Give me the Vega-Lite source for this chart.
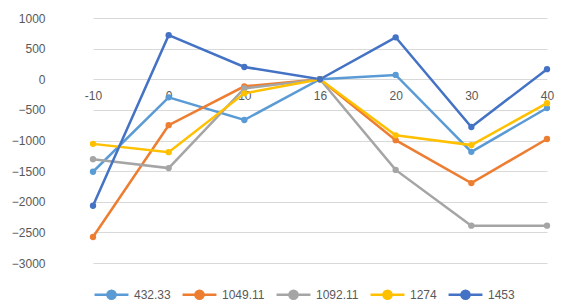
{
  "$schema": "https://vega.github.io/schema/vega-lite/v6.json",
  "width": 513,
  "height": 245,
  "autosize": {"type": "none"},
  "padding": {"left": 57, "top": 18, "right": 0, "bottom": 42},
  "background": "white",
  "config": {
    "view": {"stroke": null},
    "font": "Liberation Sans",
    "axis": {"labelColor": "#595959", "labelFontSize": 12, "ticks": false, "domain": false, "title": null}
  },
  "data": {"values": [
    {"x": "-10", "s": "432.33", "v": -1510},
    {"x": "0", "s": "432.33", "v": -295},
    {"x": "10", "s": "432.33", "v": -665},
    {"x": "16", "s": "432.33", "v": 0},
    {"x": "20", "s": "432.33", "v": 70},
    {"x": "30", "s": "432.33", "v": -1185},
    {"x": "40", "s": "432.33", "v": -470},
    {"x": "-10", "s": "1049.11", "v": -2575},
    {"x": "0", "s": "1049.11", "v": -750},
    {"x": "10", "s": "1049.11", "v": -115},
    {"x": "16", "s": "1049.11", "v": 0},
    {"x": "20", "s": "1049.11", "v": -995},
    {"x": "30", "s": "1049.11", "v": -1695},
    {"x": "40", "s": "1049.11", "v": -975},
    {"x": "-10", "s": "1092.11", "v": -1305},
    {"x": "0", "s": "1092.11", "v": -1450},
    {"x": "10", "s": "1092.11", "v": -150},
    {"x": "16", "s": "1092.11", "v": 0},
    {"x": "20", "s": "1092.11", "v": -1480},
    {"x": "30", "s": "1092.11", "v": -2390},
    {"x": "40", "s": "1092.11", "v": -2390},
    {"x": "-10", "s": "1274", "v": -1055},
    {"x": "0", "s": "1274", "v": -1190},
    {"x": "10", "s": "1274", "v": -230},
    {"x": "16", "s": "1274", "v": 0},
    {"x": "20", "s": "1274", "v": -915},
    {"x": "30", "s": "1274", "v": -1075},
    {"x": "40", "s": "1274", "v": -390},
    {"x": "-10", "s": "1453", "v": -2065},
    {"x": "0", "s": "1453", "v": 720},
    {"x": "10", "s": "1453", "v": 200},
    {"x": "16", "s": "1453", "v": 0},
    {"x": "20", "s": "1453", "v": 685},
    {"x": "30", "s": "1453", "v": -780},
    {"x": "40", "s": "1453", "v": 165}
  ]},
  "mark": {"type": "line", "strokeWidth": 2.5, "point": {"filled": true, "size": 40}},
  "encoding": {
    "x": {
      "field": "x", "type": "ordinal",
      "sort": ["-10", "0", "10", "16", "20", "30", "40"],
      "scale": {"type": "point", "range": [36, 490], "padding": 0},
      "axis": {"labelAngle": 0, "offset": -184, "labelPadding": 11, "grid": false, "zindex": 0}
    },
    "y": {
      "field": "v", "type": "quantitative",
      "scale": {"domain": [-3000, 1000], "nice": false, "zero": false},
      "axis": {"values": [-3000, -2500, -2000, -1500, -1000, -500, 0, 500, 1000], "format": "d", "gridColor": "#d9d9d9", "gridWidth": 1, "labelPadding": 12}
    },
    "color": {
      "field": "s", "type": "nominal",
      "sort": ["432.33", "1049.11", "1092.11", "1274", "1453"],
      "scale": {"domain": ["432.33", "1049.11", "1092.11", "1274", "1453"], "range": ["#5B9BD5", "#ED7D31", "#A5A5A5", "#FFC000", "#4472C4"]},
      "legend": {
        "title": null, "orient": "none", "direction": "horizontal",
        "legendX": 36, "legendY": 258,
        "symbolType": "M-1,0H1M-0.24,0A0.24,0.24,0,1,1,0.24,0A0.24,0.24,0,1,1,-0.24,0Z",
        "symbolSize": 1150, "symbolStrokeWidth": 2.5,
        "labelFontSize": 12, "labelColor": "#595959",
        "columnPadding": 6, "labelOffset": 4
      }
    }
  }
}
